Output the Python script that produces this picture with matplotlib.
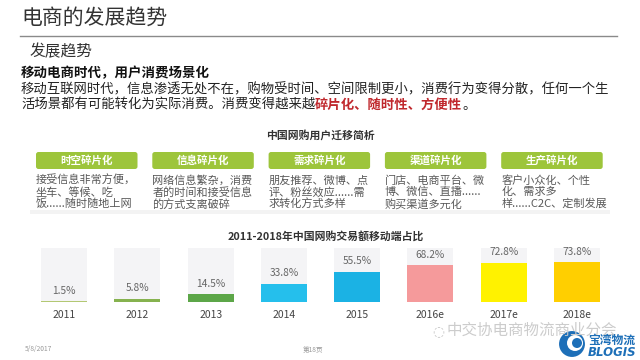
import matplotlib
matplotlib.use("Agg")
import matplotlib.pyplot as plt
from matplotlib.patches import FancyBboxPatch, Circle

plt.rcParams['font.family'] = ['Noto Sans CJK SC', 'DejaVu Sans']

# --- data ---
YEARS = ["2011", "2012", "2013", "2014", "2015", "2016e", "2017e", "2018e"]
MOBILE_SHARE = [1.5, 5.8, 14.5, 33.8, 55.5, 68.2, 72.8, 73.8]
BAR_COLORS = ["#b3c873", "#86b24f", "#5ca648", "#25bfec", "#1bb2e4",
              "#f59a9b", "#fff200", "#ffcf00"]

CARD_TITLES = ["时空碎片化", "信息碎片化", "需求碎片化", "渠道碎片化", "生产碎片化"]
CARD_LINES = [
    ["接受信息非常方便，", "坐车、等候、吃", "饭......随时随地上网"],
    ["网络信息繁杂，消费", "者的时间和接受信息", "的方式支离破碎"],
    ["朋友推荐、微博、点", "评、粉丝效应......需", "求转化方式多样"],
    ["门店、电商平台、微", "博、微信、直播......", "购买渠道多元化"],
    ["客户小众化、个性", "化、需求多", "样......C2C、定制发展"],
]

GREEN = "#9dc53b"
DARK = "#333333"

fig = plt.figure(figsize=(6.4, 3.6), dpi=100, facecolor="white")
bg = fig.add_axes([0, 0, 1, 1])
bg.set_xlim(0, 640); bg.set_ylim(360, 0); bg.axis("off")

# header
bg.text(21, 18, "电商的发展趋势", fontsize=15, color=DARK, va="center", ha="left")
bg.plot([20, 617], [35.5, 35.5], color="#8a8a8a", lw=1.0)
bg.text(30, 52, "发展趋势", fontsize=11.3, color=DARK, va="center")
bg.text(21, 73, "移动电商时代，用户消费场景化", fontsize=9.7, fontweight="bold",
        color="#111", va="center")
bg.text(21, 89, "移动互联网时代，信息渗透无处不在，购物受时间、空间限制更小，消费行为变得分散，任何一个生",
        fontsize=9.6, color="#222", va="center")
t1 = bg.text(21, 105, "活场景都有可能转化为实际消费。消费变得越来越",
             fontsize=9.6, color="#222", va="center")
fig.canvas.draw()
inv = bg.transData.inverted()
x_end = inv.transform(t1.get_window_extent().get_points())[1][0]
t2 = bg.text(x_end, 105, "碎片化、随时性、方便性", fontsize=9.6, fontweight="bold",
             color="#c0282d", va="center")
fig.canvas.draw()
x_end2 = inv.transform(t2.get_window_extent().get_points())[1][0]
bg.text(x_end2, 105, "。", fontsize=9.6, color="#222", va="center")

# migration cards
bg.text(320, 136, "中国网购用户迁移简析", fontsize=7.8, fontweight="bold",
        color=DARK, ha="center", va="center")
for i, (title, lines) in enumerate(zip(CARD_TITLES, CARD_LINES)):
    x0 = 36 + i * 116.3
    box = FancyBboxPatch((x0, 152), 101.5, 17, boxstyle="round,pad=0,rounding_size=2.5",
                         facecolor=GREEN, edgecolor="none")
    bg.add_patch(box)
    bg.text(x0 + 50.7, 160.5, title, fontsize=7.6, fontweight="bold", color="white",
            ha="center", va="center")
    for j, ln in enumerate(lines):
        bg.text(x0, 180.5 + j * 11.7, ln, fontsize=8.0, color="#595959",
                ha="left", va="center")
# faint shadow under cards
bg.fill_between([30, 610], 210, 214, color="#f3f3f3", lw=0)

bg.text(326, 236, "2011-2018年中国网购交易额移动端占比", fontsize=7.8, fontweight="bold",
        color=DARK, ha="center", va="center")

# footer
bg.text(25, 349, "5/8/2017", fontsize=4.8, color="#999999", va="center")
bg.text(313, 350, "第18页", fontsize=4.8, color="#999999", va="center", ha="center")

# watermark + logo
bg.text(438, 331, "◌", fontsize=10, color="#c4c4c4", va="center", ha="center",
        family=["DejaVu Sans"])
bg.text(447, 330, "中交协电商物流商业分会", fontsize=11.2, color="#cccccc",
        va="center", ha="left")
bg.add_patch(Circle((572, 344), 14, facecolor="#1d6fb8", edgecolor="white", lw=1.5))
bg.add_patch(Circle((575, 343), 8, facecolor="white", edgecolor="none"))
bg.add_patch(Circle((577, 343), 5, facecolor="#1d6fb8", edgecolor="none"))
bg.text(612, 340, "宝湾物流", fontsize=8.5, fontweight="bold", color="#1d6fb8",
        ha="center", va="center")
bg.text(612, 352, "BLOGIS", fontsize=8.5, fontweight="bold", style="italic",
        color="#1d6fb8", ha="center", va="center", family=["DejaVu Sans"])

# bar chart
ax = fig.add_axes([27.5 / 640, 58 / 360, 586 / 640, 54 / 360])
ax.set_facecolor("none")
xs = range(len(YEARS))
ax.bar(xs, [100] * len(YEARS), width=0.63, color="#f4f4f6", zorder=1)
bars = ax.bar(xs, MOBILE_SHARE, width=0.63, color=BAR_COLORS, zorder=2)
for b, v in zip(bars, MOBILE_SHARE):
    ax.annotate(f"{v}%", (b.get_x() + b.get_width() / 2, v), xytext=(0, 4),
                textcoords="offset points", ha="center", va="bottom",
                fontsize=7.3, color="#666666")
ax.set_xlim(-0.5, len(YEARS) - 0.5)
ax.set_ylim(0, 100)
ax.set_xticks(list(xs))
ax.set_xticklabels(YEARS, fontsize=7.5, color="#444444")
ax.tick_params(axis="x", length=0, pad=6)
ax.set_yticks([])
for s in ax.spines.values():
    s.set_visible(False)

fig.savefig("out.png", dpi=100, facecolor="white")
